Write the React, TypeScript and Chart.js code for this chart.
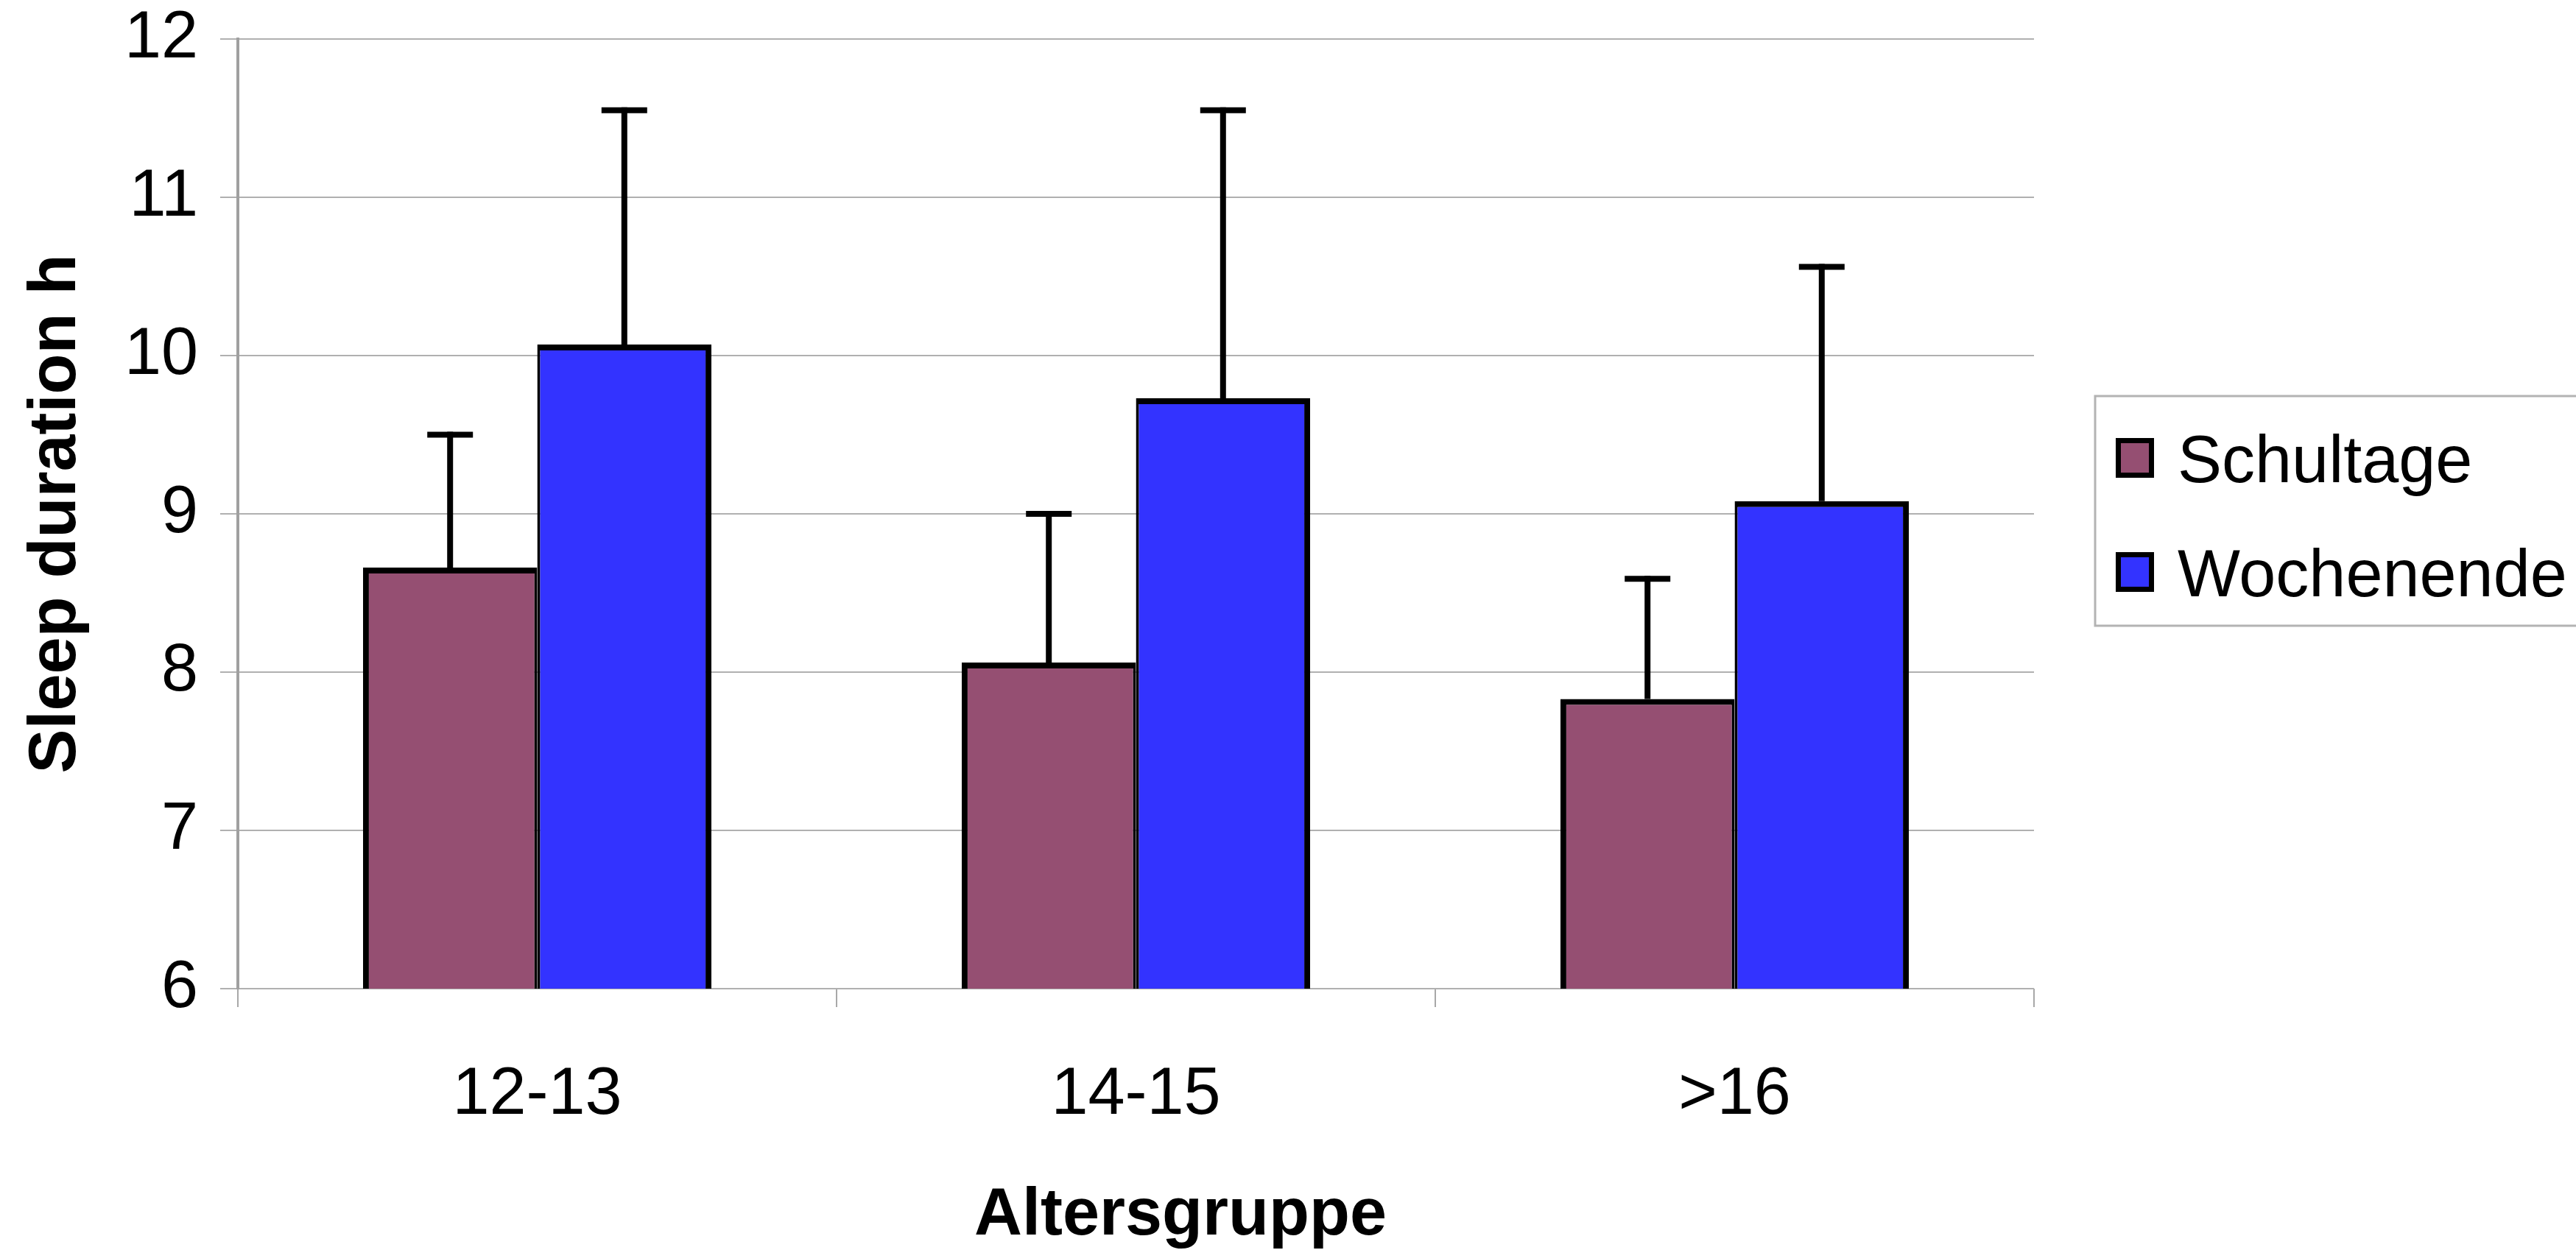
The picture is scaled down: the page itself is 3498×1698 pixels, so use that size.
import React, { useEffect, useRef } from 'react';
import { Chart, registerables } from 'chart.js';

Chart.register(...registerables);

const categories = ['12-13', '14-15', '>16'];
const seriesNames = ['Schultage', 'Wochenende'];
const schultage = [8.66, 8.06, 7.83];
const wochenende = [10.07, 9.73, 9.08];
const schultageErr = [0.84, 0.94, 0.76];
const wochenendeErr = [1.48, 1.82, 1.48];
const seriesColors = ['#954F72', '#3333FF'];
const yMin = 6;
const yMax = 12;
const yTitle = 'Sleep duration h';
const xTitle = 'Altersgruppe';

const FONT = "'Liberation Sans', Arial, Helvetica, sans-serif";
const W = 3498;
const H = 1698;

const errorBarPlugin = {
  id: 'errorBars',
  afterDatasetsDraw(chart: any) {
    const ctx = chart.ctx;
    const y = chart.scales.y;
    chart.data.datasets.forEach((ds: any, i: number) => {
      const meta = chart.getDatasetMeta(i);
      meta.data.forEach((bar: any, j: number) => {
        const v = ds.data[j] + ds.errors[j];
        const top = y.getPixelForValue(v);
        ctx.save();
        ctx.strokeStyle = '#000';
        ctx.lineWidth = 8;
        ctx.lineCap = 'butt';
        ctx.beginPath();
        ctx.moveTo(bar.x, bar.y);
        ctx.lineTo(bar.x, top - 4);
        ctx.stroke();
        ctx.lineWidth = 8;
        ctx.beginPath();
        ctx.moveTo(bar.x - 31, top);
        ctx.lineTo(bar.x + 31, top);
        ctx.stroke();
        ctx.restore();
      });
    });
  },
};

const customTextPlugin = {
  id: 'customText',
  afterDraw(chart: any) {
    const ctx = chart.ctx;
    ctx.save();
    // x axis title
    ctx.fillStyle = '#000';
    ctx.font = `bold 90px ${FONT}`;
    ctx.textAlign = 'center';
    ctx.textBaseline = 'alphabetic';
    ctx.fillText(xTitle, 1603, 1677);

    // legend box
    const lx = 2845;
    const ly = 538;
    ctx.fillStyle = '#fff';
    ctx.strokeStyle = '#b3b3b3';
    ctx.lineWidth = 3;
    ctx.fillRect(lx, ly, W - lx + 10, 312);
    ctx.strokeRect(lx, ly, W - lx + 10, 312);

    const centers = [622, 777];
    chart.data.datasets.forEach((ds: any, i: number) => {
      const cy = centers[i];
      ctx.fillStyle = '#000';
      ctx.fillRect(2873, cy - 27, 52, 54);
      ctx.fillStyle = ds.backgroundColor;
      ctx.fillRect(2880, cy - 20, 38, 40);
      ctx.fillStyle = '#000';
      ctx.font = `90px ${FONT}`;
      ctx.textAlign = 'left';
      ctx.textBaseline = 'alphabetic';
      ctx.fillText(ds.label, 2957, cy + 33);
    });
    ctx.restore();
  },
};

export default function App() {
  const ref = useRef<HTMLCanvasElement | null>(null);

  useEffect(() => {
    document.body.style.margin = '0';
    const canvas = ref.current;
    if (!canvas) return;
    const chart = new Chart(canvas, {
      type: 'bar',
      data: {
        labels: categories,
        datasets: [
          {
            label: seriesNames[0],
            data: schultage,
            errors: schultageErr,
            backgroundColor: seriesColors[0],
            borderColor: '#000',
            borderWidth: { top: 8, left: 8, bottom: 8, right: 4 },
            borderSkipped: false,
          } as any,
          {
            label: seriesNames[1],
            data: wochenende,
            errors: wochenendeErr,
            backgroundColor: seriesColors[1],
            borderColor: '#000',
            borderWidth: { top: 8, left: 4, bottom: 8, right: 8 },
            borderSkipped: false,
          } as any,
        ],
      },
      options: {
        responsive: false,
        animation: false,
        devicePixelRatio: 1,
        layout: { padding: { top: 53, right: W - 2762, left: 0, bottom: 0 } },
        datasets: {
          bar: { categoryPercentage: 0.582, barPercentage: 1 },
        },
        plugins: {
          legend: { display: false },
          tooltip: { enabled: false },
          title: { display: false },
        },
        scales: {
          x: {
            type: 'category',
            grid: {
              offset: true,
              drawOnChartArea: false,
              drawTicks: true,
              tickLength: 25,
              color: '#a8a8a8',
              lineWidth: 2,
            },
            border: { display: false },
            ticks: {
              color: '#000',
              font: { family: FONT, size: 90, lineHeight: 1.2 },
              padding: 66,
              maxRotation: 0,
            },
            afterFit: (scale: any) => {
              scale.height = H - 1343;
              scale.paddingLeft = 0;
              scale.paddingRight = 0;
            },
          },
          y: {
            min: yMin,
            max: yMax,
            ticks: {
              stepSize: 1,
              color: '#000',
              font: { family: FONT, size: 90, lineHeight: 1.2 },
              padding: 30,
            },
            grid: {
              color: '#b0b0b0',
              lineWidth: 2,
              tickLength: 24,
            },
            border: { display: true, color: '#a0a0a0', width: 4 },
            title: {
              display: true,
              text: yTitle,
              color: '#000',
              font: { family: FONT, size: 90, weight: 'bold', lineHeight: 1 },
              padding: { top: 32, bottom: 0 },
            },
            afterFit: (scale: any) => {
              scale.width = 323;
              scale.paddingTop = 0;
              scale.paddingBottom = 0;
            },
          },
        },
      } as any,
      plugins: [errorBarPlugin, customTextPlugin],
    });
    return () => chart.destroy();
  }, []);

  return (
    <div style={{ position: 'fixed', left: 0, top: 0, width: W, height: H, background: '#fff' }}>
      <canvas ref={ref} width={W} height={H} style={{ display: 'block', width: W, height: H }} />
    </div>
  );
}
